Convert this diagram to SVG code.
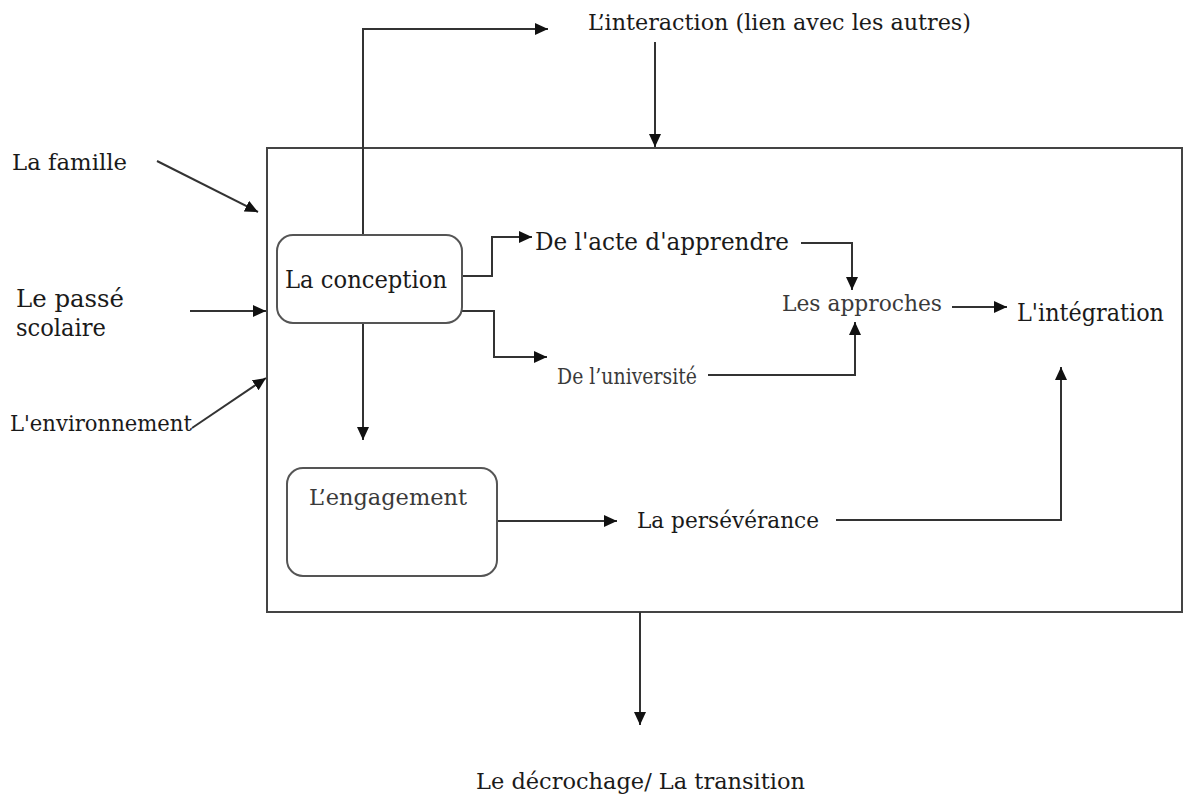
<svg xmlns="http://www.w3.org/2000/svg" width="1183" height="805" viewBox="0 0 1183 805">
<style>
  text { font-family: "DejaVu Serif", "Liberation Serif", serif; font-size: 24px; fill: #1a1a1a; }
  .sm { font-size: 22px; }
  .gray { fill: #3a3a3a; }
  .box { fill: #ffffff; stroke: #444; stroke-width: 2; }
  .node { fill: #ffffff; stroke: #555; stroke-width: 2; }
  .conn { fill: none; stroke: #333; stroke-width: 2; marker-end: url(#arr); }
</style>
<defs>
  <marker id="arr" markerUnits="userSpaceOnUse" markerWidth="14" markerHeight="12" refX="13" refY="6" orient="auto">
    <path d="M0,0 L13,6 L0,12 z" fill="#111"/>
  </marker>
</defs>
<rect width="1183" height="805" fill="#ffffff"/>

<g id="system">
  <rect class="box" x="267" y="148" width="915" height="464"/>
</g>

<g id="connectors">
  <path class="conn" d="M363,235 L363,29 L548,29"/>
  <path class="conn" d="M655,42 L655,147"/>
  <path class="conn" d="M157,161 L258,212"/>
  <path class="conn" d="M190,311 L266,311"/>
  <path class="conn" d="M192,428 L266,378"/>
  <path class="conn" d="M462,276 L492,276 L492,237 L532,237"/>
  <path class="conn" d="M462,311 L494,311 L494,357 L547,357"/>
  <path class="conn" d="M801,243 L852,243 L852,290"/>
  <path class="conn" d="M708,375 L855,375 L855,322"/>
  <path class="conn" d="M952,307 L1007,307"/>
  <path class="conn" d="M363,323 L363,440"/>
  <path class="conn" d="M497,521 L617,521"/>
  <path class="conn" d="M836,520 L1061,520 L1061,367"/>
  <path class="conn" d="M640,612 L640,725"/>
</g>

<g id="interaction">
  <text class="sm" x="588" y="30" textLength="383" lengthAdjust="spacingAndGlyphs">L’interaction (lien avec les autres)</text>
</g>
<g id="famille">
  <text class="sm" x="12" y="170" textLength="115" lengthAdjust="spacingAndGlyphs">La famille</text>
</g>
<g id="passe">
  <text x="16" y="307" textLength="108" lengthAdjust="spacingAndGlyphs">Le passé</text>
  <text x="16" y="336" textLength="90" lengthAdjust="spacingAndGlyphs">scolaire</text>
</g>
<g id="environnement">
  <text class="sm" x="10" y="431" textLength="182" lengthAdjust="spacingAndGlyphs">L'environnement</text>
</g>
<g id="conception">
  <rect class="node" x="277" y="235" width="185" height="88" rx="16"/>
  <text x="285" y="288" textLength="162" lengthAdjust="spacingAndGlyphs">La conception</text>
</g>
<g id="acte">
  <text x="535" y="250" textLength="254" lengthAdjust="spacingAndGlyphs">De l'acte d'apprendre</text>
</g>
<g id="universite">
  <text class="sm gray" x="557" y="384" textLength="140" lengthAdjust="spacingAndGlyphs">De l’université</text>
</g>
<g id="approches">
  <text class="sm gray" x="782" y="311" textLength="160" lengthAdjust="spacingAndGlyphs">Les approches</text>
</g>
<g id="integration">
  <text x="1017" y="321" textLength="147" lengthAdjust="spacingAndGlyphs">L'intégration</text>
</g>
<g id="engagement">
  <rect class="node" x="287" y="468" width="210" height="108" rx="16"/>
  <text class="sm gray" x="309" y="505" textLength="158" lengthAdjust="spacingAndGlyphs">L’engagement</text>
</g>
<g id="perseverance">
  <text class="sm" x="637" y="528" textLength="182" lengthAdjust="spacingAndGlyphs">La persévérance</text>
</g>
<g id="decrochage">
  <text class="sm" x="476" y="789" textLength="329" lengthAdjust="spacingAndGlyphs">Le décrochage/ La transition</text>
</g>
</svg>
